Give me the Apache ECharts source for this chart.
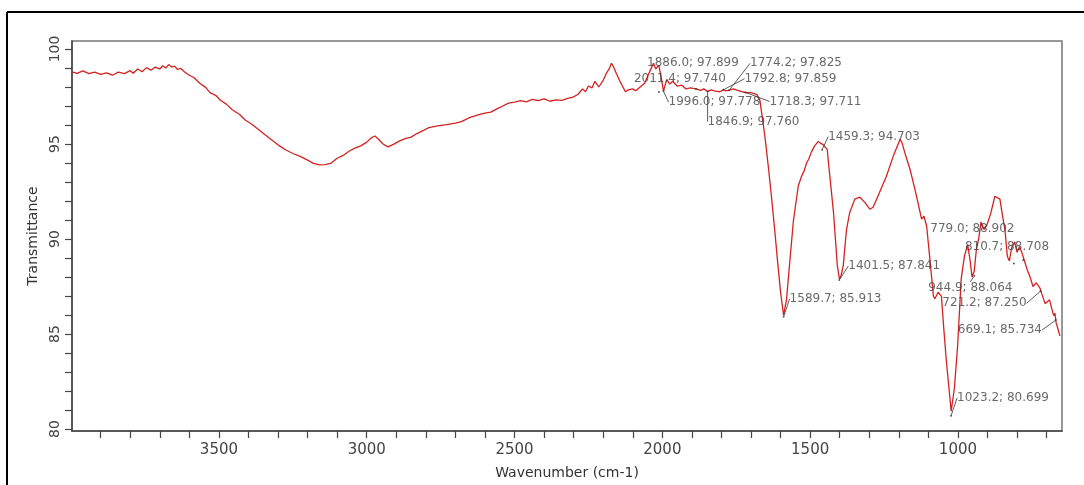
<!DOCTYPE html>
<html>
<head>
<meta charset="utf-8">
<script src="https://cdn.jsdelivr.net/npm/echarts@6/dist/echarts.min.js"></script>
<style>
  html, body { margin: 0; padding: 0; background: #fff; }
  #chart { width: 1084px; height: 485px; }
</style>
</head>
<body>
<div id="chart"></div>
<script>
// spectrum (cm-1 / %T)
var waveNumbers = [
  3997, 3980, 3960, 3940, 3920, 3900, 3880, 3860, 3840, 3820, 3800, 3790, 3775, 3760, 3745, 3730, 3715, 3700,
  3690, 3680, 3670, 3660, 3650, 3640, 3630, 3615, 3600, 3585, 3565, 3545, 3530, 3510, 3495, 3475, 3455, 3430,
  3410, 3390, 3365, 3345, 3320, 3295, 3275, 3250, 3225, 3200, 3180, 3160, 3140, 3120, 3100, 3080, 3060, 3040,
  3020, 3000, 2985, 2972, 2960, 2945, 2928, 2910, 2890, 2870, 2850, 2830, 2810, 2790, 2760, 2730, 2700, 2680,
  2650, 2620, 2600, 2580, 2560, 2540, 2520, 2500, 2480, 2460, 2440, 2420, 2400, 2380, 2360, 2340, 2320, 2300,
  2285, 2270, 2260, 2250, 2238, 2228, 2215, 2200, 2190, 2180, 2172, 2165, 2155, 2145, 2135, 2125, 2115, 2100,
  2090, 2075, 2060, 2050, 2040, 2030, 2022, 2012, 2005, 1996, 1985, 1975, 1965, 1950, 1935, 1920, 1905, 1886,
  1870, 1860, 1847, 1835, 1820, 1805, 1793, 1785, 1774, 1760, 1745, 1730, 1718, 1700, 1680, 1670, 1660, 1650,
  1640, 1630, 1620, 1610, 1600, 1590, 1580, 1574, 1562, 1557, 1550, 1540, 1529, 1520, 1512, 1505, 1495, 1485,
  1473, 1465, 1456, 1442, 1438, 1430, 1421, 1408, 1401, 1395, 1388, 1377, 1366, 1349, 1332, 1315, 1298, 1287,
  1265, 1242, 1219, 1196, 1190, 1175, 1162, 1150, 1140, 1123, 1115, 1106, 1094, 1083, 1078, 1067, 1056, 1048,
  1039, 1030, 1023, 1012, 1001, 989, 978, 967, 960, 952, 945, 938, 930, 922, 912, 903, 890, 875, 858, 850,
  841, 833, 826, 819, 813, 808, 800, 792, 784, 776, 766, 756, 746, 735, 722, 716, 712, 705, 699, 690, 682, 676,
  672, 668, 665, 660, 655, 651, 648
];
var transmittance = [
  98.80, 98.72, 98.85, 98.70, 98.78, 98.66, 98.74, 98.62, 98.78, 98.70, 98.86, 98.72, 98.95, 98.80, 99.02, 98.88, 99.05, 98.95,
  99.12, 99.00, 99.18, 99.05, 99.10, 98.92, 98.98, 98.78, 98.62, 98.50, 98.20, 97.98, 97.70, 97.55, 97.30, 97.10, 96.80, 96.55,
  96.25, 96.05, 95.75, 95.50, 95.20, 94.90, 94.70, 94.50, 94.35, 94.15, 93.98, 93.90, 93.92, 94.00, 94.25, 94.40, 94.62, 94.78,
  94.90, 95.10, 95.32, 95.42, 95.25, 95.00, 94.85, 94.98, 95.15, 95.28, 95.36, 95.55, 95.70, 95.86, 95.95, 96.02, 96.10, 96.18,
  96.40, 96.55, 96.62, 96.68, 96.85, 97.00, 97.15, 97.20, 97.28, 97.22, 97.35, 97.28, 97.38, 97.25, 97.32, 97.30, 97.40, 97.48,
  97.62, 97.90, 97.75, 98.05, 97.95, 98.30, 98.00, 98.35, 98.70, 98.95, 99.25, 99.05, 98.70, 98.35, 98.05, 97.75, 97.85, 97.90,
  97.80, 98.00, 98.20, 98.55, 98.90, 99.25, 98.95, 99.15, 98.60, 97.78, 98.40, 98.15, 98.30, 98.05, 98.10, 97.90, 97.95, 97.90,
  97.82, 97.90, 97.76, 97.85, 97.78, 97.75, 97.86, 97.80, 97.83, 97.90, 97.82, 97.75, 97.71, 97.70, 97.60, 97.30, 96.20, 95.00,
  93.60, 92.10, 90.50, 88.80, 87.20, 86.00, 86.80, 87.90, 90.00, 90.90, 91.70, 92.80, 93.30, 93.60, 94.00, 94.20, 94.60, 94.90,
  95.13, 95.05, 94.97, 94.70, 94.00, 92.80, 91.40, 88.60, 87.90, 88.10, 88.60, 90.50, 91.40, 92.10, 92.20, 91.93, 91.57, 91.67,
  92.46, 93.30, 94.35, 95.24, 95.10, 94.30, 93.66, 92.90, 92.25, 91.05, 91.20, 90.70, 88.80, 87.00, 86.86, 87.20, 87.00, 85.30,
  83.56, 82.10, 80.94, 82.15, 84.40, 87.90, 89.10, 89.70, 89.00, 88.00, 88.30, 89.40, 90.00, 90.90, 90.50, 90.70, 91.30, 92.25,
  92.10, 91.30, 90.50, 89.10, 88.85, 89.50, 89.60, 89.85, 89.30, 89.60, 89.30, 88.90, 88.40, 88.00, 87.50, 87.70, 87.40, 87.10,
  87.00, 86.60, 86.50, 86.80, 86.30, 85.97, 86.10, 85.60, 85.45, 85.50, 84.90
];

// peak labels
var annoWave  = [1886.0, 1774.2, 2011.4, 1792.8, 1996.0, 1718.3, 1846.9, 1459.3, 779.0, 810.7, 1401.5, 944.9, 721.2, 1589.7, 669.1, 1023.2];
var annoTrans = [97.899, 97.825, 97.740, 97.859, 97.778, 97.711, 97.760, 94.703, 88.902, 88.708, 87.841, 88.064, 87.250, 85.913, 85.734, 80.699];
// label offsets from the peak mark (px), and whether a leader line is drawn
var labelShift = [[-49, -26], [21, -27], [-25, -13], [21, -11], [5, 11], [24, 9], [0, 30], [6, -13],
                  [-93, -31], [-49, -17], [9, -14], [-46, 12], [-98, 12], [6, -18], [-98, 10], [6, -18]];
var leaderShown = [false, true, false, true, true, true, true, true, false, false, true, true, true, true, true, true];

// ticks
var xLabelTicks = [1000, 1500, 2000, 2500, 3000, 3500];
var xMinorTicks = [700, 800, 900, 1000, 1100, 1200, 1300, 1400, 1500, 1600, 1700, 1800, 1900, 2000, 2100, 2200,
                   2300, 2400, 2500, 2600, 2700, 2800, 2900, 3000, 3100, 3200, 3300, 3400, 3500, 3600, 3700, 3800, 3900];
var yLabelTicks = [80, 85, 90, 95, 100];
var yMinorTicks = [80, 81, 82, 83, 84, 85, 86, 87, 88, 89, 90, 91, 92, 93, 94, 95, 96, 97, 98, 99, 100];

var spectrum = waveNumbers.map(function (w, i) { return [w, transmittance[i]]; });
var peaks = annoWave.map(function (w, i) {
  return { value: [w, annoTrans[i]], labelLine: { show: leaderShown[i] } };
});

var font = 'DejaVu Sans';
var chart = echarts.init(document.getElementById('chart'));
chart.setOption({
  animation: false,
  backgroundColor: '#fff',
  grid: { left: 72, right: 22, top: 41, bottom: 52, show: true, borderColor: '#777', borderWidth: 1.5 },
  xAxis: {
    type: 'value', inverse: true, min: 648, max: 3997,
    name: 'Wavenumber (cm-1)', nameLocation: 'middle', nameGap: 35,
    nameTextStyle: { fontFamily: font, fontSize: 14, color: '#333' },
    axisLine: { onZero: false, lineStyle: { color: '#444', width: 1.5 } },
    axisTick: { show: true, customValues: xMinorTicks, length: 7, lineStyle: { color: '#444', width: 1.2 } },
    axisLabel: {
      customValues: xLabelTicks, margin: 12, fontFamily: font, fontSize: 15, color: '#444',
      formatter: function (v) { return String(v); }
    },
    splitLine: { show: false }
  },
  yAxis: {
    type: 'value', min: 79.9, max: 100.42,
    name: 'Transmittance', nameLocation: 'middle', nameGap: 31,
    nameTextStyle: { fontFamily: font, fontSize: 14, color: '#333' },
    axisLine: { show: true, lineStyle: { color: '#444', width: 1.5 } },
    axisTick: { show: true, customValues: yMinorTicks, length: 7, lineStyle: { color: '#444', width: 1.2 } },
    axisLabel: {
      customValues: yLabelTicks, rotate: 90, margin: 10, fontFamily: font, fontSize: 14, color: '#444',
      formatter: function (v) { return String(v); }
    },
    splitLine: { show: false }
  },
  graphic: [
    { type: 'line', shape: { x1: 7, y1: 12, x2: 1084, y2: 12 }, style: { stroke: '#000', lineWidth: 2 } },
    { type: 'line', shape: { x1: 7, y1: 12, x2: 7, y2: 485 }, style: { stroke: '#000', lineWidth: 2 } }
  ],
  series: [
    {
      type: 'line', data: spectrum, showSymbol: false,
      lineStyle: { color: '#d42222', width: 1.3 }
    },
    {
      type: 'scatter', data: peaks, symbolSize: 2, z: 5,
      itemStyle: { color: '#333' },
      label: {
        show: true, fontFamily: font, fontSize: 12, color: '#444',
        formatter: function (p) { return p.value[0].toFixed(1) + '; ' + p.value[1].toFixed(3); }
      },
      labelLine: { show: true, lineStyle: { color: '#333', width: 0.8 } },
      labelLayout: function (p) {
        var s = labelShift[p.dataIndex];
        var cx = p.rect.x + p.rect.width / 2, cy = p.rect.y + p.rect.height / 2;
        return { x: cx + s[0], y: cy + s[1], align: 'left', verticalAlign: 'middle' };
      }
    }
  ]
});
</script>
</body>
</html>
